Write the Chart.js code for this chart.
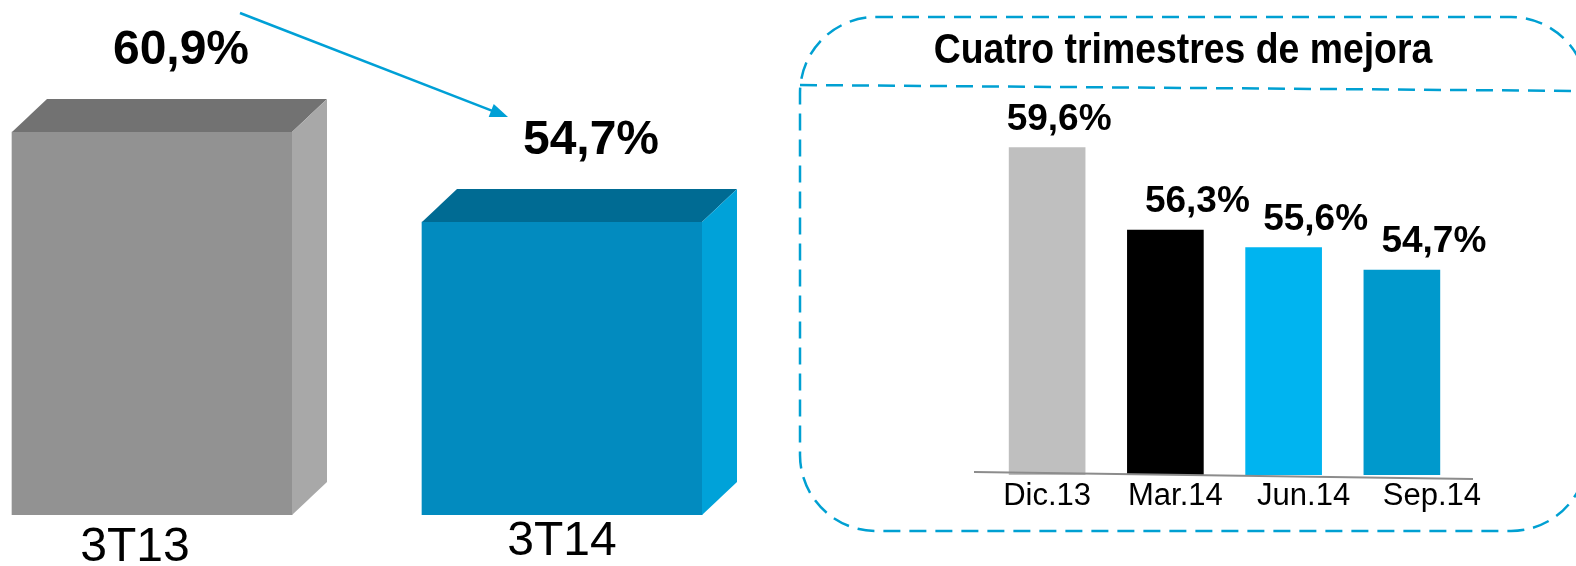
<!DOCTYPE html>
<html>
<head>
<meta charset="utf-8">
<script src="https://cdn.jsdelivr.net/npm/chart.js@4.4.1/dist/chart.umd.min.js"></script>
<style>
  html, body { margin: 0; padding: 0; background: #fff; overflow: hidden; }
  #wrap { position: relative; width: 1576px; height: 566px; }
  canvas { position: absolute; top: 0; }
  #left { left: 0; }
  #right { left: 780px; }
</style>
</head>
<body>
<div id="wrap">
  <canvas id="left" width="780" height="566"></canvas>
  <canvas id="right" width="796" height="566"></canvas>
</div>
<script>
const periods = ["3T13", "3T14"];
const periodRatio = [60.9, 54.7];

const quarters = ["Dic.13", "Mar.14", "Jun.14", "Sep.14"];
const quarterRatio = [59.6, 56.3, 55.6, 54.7];

const boxTitle = "Cuatro trimestres de mejora";

const FONT = "'Liberation Sans', Arial, sans-serif";
const pct = (v) => v.toFixed(1).replace(".", ",") + "%";

// 3D look for the two big bars: front / top / side shades
const shades = {
  front: ["#929292", "#028bbf"],
  top: ["#727272", "#006b93"],
  side: ["#a8a8a8", "#00a2d9"],
};

const cubePlugin = {
  id: "cube",
  afterDatasetsDraw(chart) {
    const ctx = chart.ctx;
    const dx = 35, dy = 33;
    const bottom = chart.chartArea.bottom;
    const bars = chart.getDatasetMeta(0).data;
    ctx.save();
    bars.forEach((bar, i) => {
      const l = bar.x - bar.width / 2, r = bar.x + bar.width / 2;
      const t = bar.y, b = Math.min(bar.base, bottom);
      ctx.fillStyle = shades.top[i];
      ctx.beginPath();
      ctx.moveTo(l, t);
      ctx.lineTo(l + dx, t - dy);
      ctx.lineTo(r + dx, t - dy);
      ctx.lineTo(r, t);
      ctx.closePath();
      ctx.fill();
      ctx.fillStyle = shades.side[i];
      ctx.beginPath();
      ctx.moveTo(r, t);
      ctx.lineTo(r + dx, t - dy);
      ctx.lineTo(r + dx, b - dy);
      ctx.lineTo(r, b);
      ctx.closePath();
      ctx.fill();
    });

    // value labels and period labels
    ctx.fillStyle = "#000";
    ctx.textAlign = "center";
    ctx.textBaseline = "alphabetic";
    bars.forEach((bar, i) => {
      ctx.font = "bold 48px " + FONT;
      ctx.fillText(pct(periodRatio[i]), bar.x + 29, bar.y - 68);
      ctx.font = "48px " + FONT;
      ctx.fillText(periods[i], bar.x - (i === 0 ? 17 : 0), bottom + 46 - i * 6);
    });

    // arrow from the old value down to the new one
    const a = bars[0], b = bars[1];
    const x1 = a.x + 88, y1 = a.y - 119;
    const x2 = b.x - 54, y2 = b.y - 105;
    const ang = Math.atan2(y2 - y1, x2 - x1);
    ctx.strokeStyle = "#00a0d6";
    ctx.fillStyle = "#00a0d6";
    ctx.lineWidth = 2.5;
    ctx.beginPath();
    ctx.moveTo(x1, y1);
    ctx.lineTo(x2 - 14 * Math.cos(ang), y2 - 14 * Math.sin(ang));
    ctx.stroke();
    ctx.beginPath();
    ctx.moveTo(x2, y2);
    ctx.lineTo(x2 - 18 * Math.cos(ang) + 7 * Math.sin(ang), y2 - 18 * Math.sin(ang) - 7 * Math.cos(ang));
    ctx.lineTo(x2 - 18 * Math.cos(ang) - 7 * Math.sin(ang), y2 - 18 * Math.sin(ang) + 7 * Math.cos(ang));
    ctx.closePath();
    ctx.fill();
    ctx.restore();
  },
};

new Chart(document.getElementById("left"), {
  type: "bar",
  data: {
    labels: periods,
    datasets: [{
      data: periodRatio,
      backgroundColor: shades.front,
      barThickness: 280,
      // bars stick out of the narrow plot area sideways, cut only at the base
      clip: { left: false, right: false, top: false, bottom: 0 },
    }],
  },
  options: {
    responsive: false,
    animation: false,
    devicePixelRatio: 1,
    layout: { padding: { left: 152, right: 218, top: 0, bottom: 51 } },
    scales: {
      x: { display: false, offset: false },
      y: { display: false, min: 34.5, max: 70 },
    },
    plugins: { legend: { display: false }, tooltip: { enabled: false } },
  },
  plugins: [cubePlugin],
});

// dashed rounded frame, title and the sloped base line
const framePlugin = {
  id: "frame",
  beforeDatasetsDraw(chart) {
    const ctx = chart.ctx;
    const x0 = 20, y0 = 17, x1 = 807, y1 = 531, r = 76;
    ctx.save();
    ctx.strokeStyle = "#00a0d2";
    ctx.lineWidth = 2.5;
    ctx.setLineDash([17, 9]);
    ctx.beginPath();
    ctx.moveTo(x0 + r, y0);
    ctx.arcTo(x1, y0, x1, y1, r);
    ctx.arcTo(x1, y1, x0, y1, r);
    ctx.arcTo(x0, y1, x0, y0, r);
    ctx.arcTo(x0, y0, x1, y0, r);
    ctx.closePath();
    ctx.stroke();
    ctx.beginPath();
    ctx.moveTo(x0, 85);
    ctx.lineTo(x1, 91);
    ctx.stroke();
    ctx.setLineDash([]);
    // the title is set in a condensed face: squeeze it horizontally
    ctx.fillStyle = "#000";
    ctx.textAlign = "center";
    ctx.font = "bold 42px " + FONT;
    ctx.translate(403, 63);
    ctx.scale(0.89, 1);
    ctx.fillText(boxTitle, 0, 0);
    ctx.restore();
  },
  afterDatasetsDraw(chart) {
    const ctx = chart.ctx;
    const area = chart.chartArea;
    const bars = chart.getDatasetMeta(0).data;
    ctx.save();
    ctx.strokeStyle = "#8c8c8c";
    ctx.lineWidth = 2;
    ctx.beginPath();
    ctx.moveTo(area.left - 14, area.bottom - 3);
    ctx.lineTo(area.right + 12, area.bottom + 4);
    ctx.stroke();
    ctx.fillStyle = "#000";
    ctx.textAlign = "center";
    bars.forEach((bar, i) => {
      ctx.font = "bold 37px " + FONT;
      ctx.fillText(pct(quarterRatio[i]), bar.x + 12 + (i > 0 ? 20 : 0), bar.y - 18);
      ctx.font = "31px " + FONT;
      ctx.fillText(quarters[i], bar.x + i * 10, area.bottom + 30);
    });
    ctx.restore();
  },
};

new Chart(document.getElementById("right"), {
  type: "bar",
  data: {
    labels: quarters,
    datasets: [{
      data: quarterRatio,
      backgroundColor: ["#bfbfbf", "#000000", "#00b4f0", "#0099cc"],
      barThickness: 76,
    }],
  },
  options: {
    responsive: false,
    animation: false,
    devicePixelRatio: 1,
    layout: { padding: { left: 208, right: 115, top: 100, bottom: 91 } },
    scales: {
      x: { display: false },
      y: { display: false, min: 46.5, max: 61.5 },
    },
    plugins: { legend: { display: false }, tooltip: { enabled: false } },
  },
  plugins: [framePlugin],
});
</script>
</body>
</html>
